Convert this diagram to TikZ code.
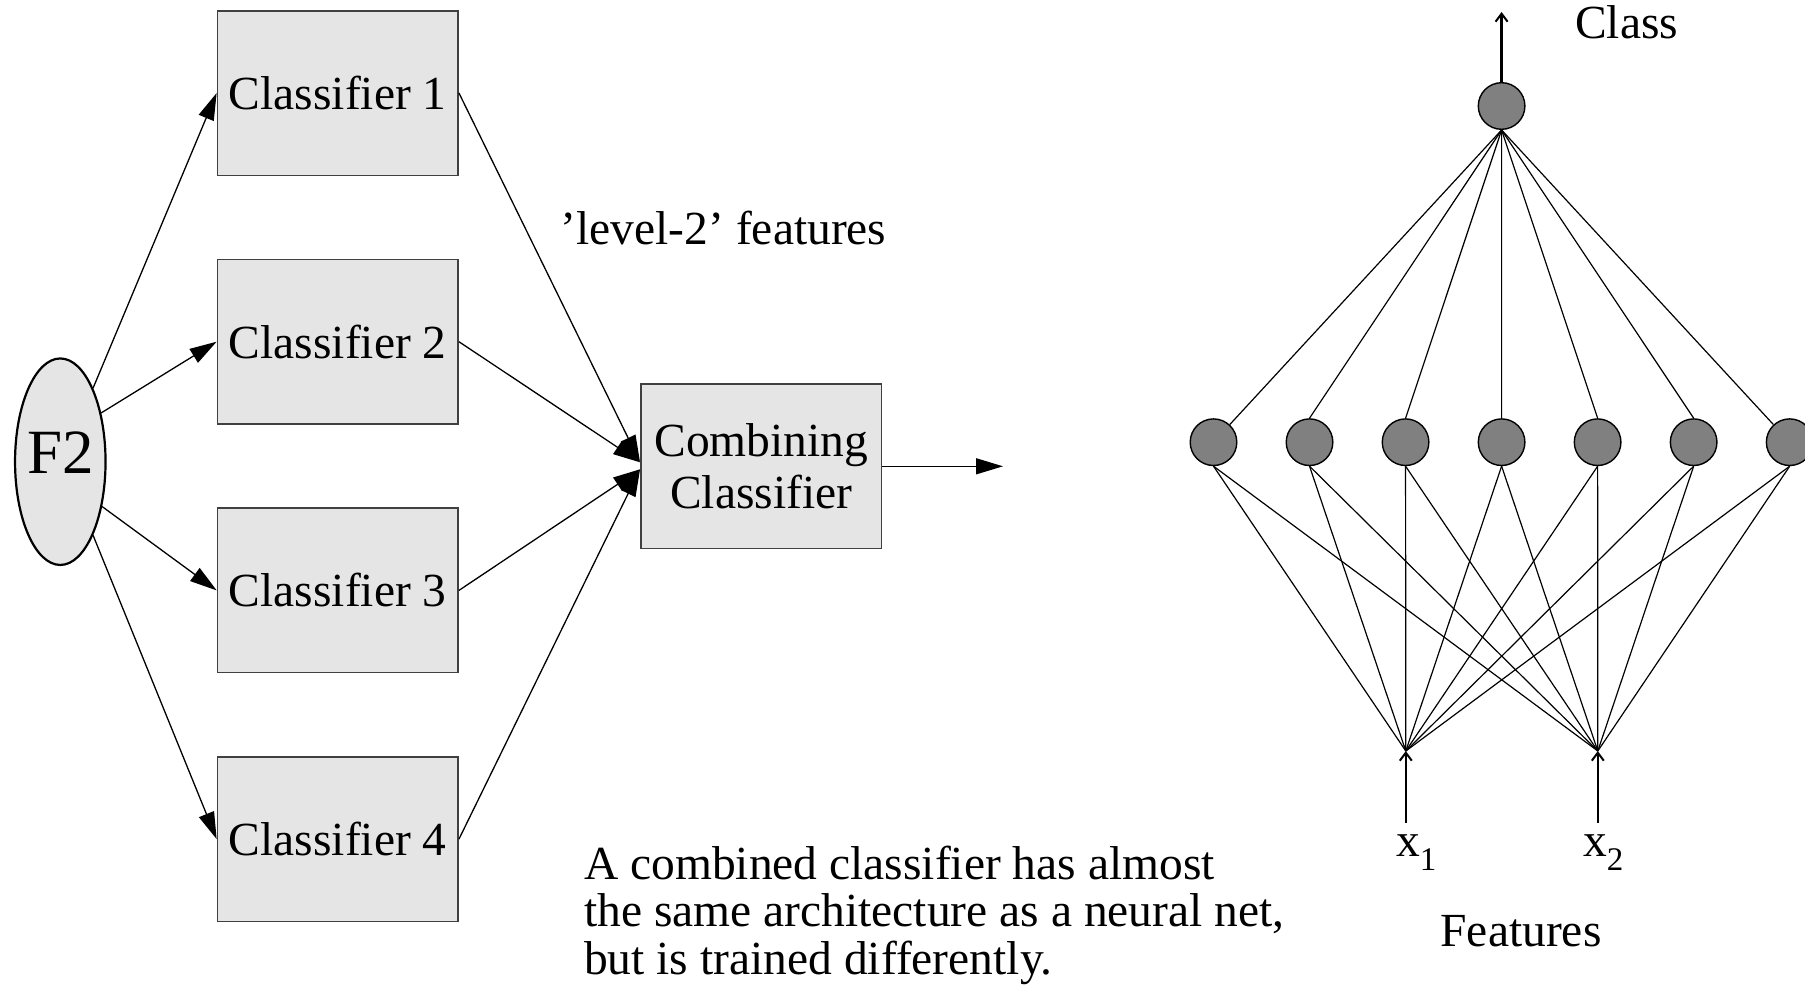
\documentclass[tikz,border=0pt]{standalone}
\usepackage{fontspec}
\setmainfont{Liberation Serif}
\usetikzlibrary{arrows.meta,shapes.geometric}
\definecolor{boxgray}{gray}{0.898}
\definecolor{neurongray}{gray}{0.5}
\begin{document}
\begin{tikzpicture}[x=1pt,y=-1pt,
  txt/.style={font=\fontsize{47.5}{52.7}\selectfont, inner sep=0pt},
  clsbox/.style={draw=black!75, line width=1.5pt, fill=boxgray,
    minimum width=240.8pt, minimum height=164.5pt, inner sep=0pt,
    align=center, font=\fontsize{47.5}{52.7}\selectfont},
  srcnode/.style={ellipse, draw=black, line width=2.2pt, fill=boxgray,
    minimum width=90.5pt, minimum height=206.5pt, inner sep=0pt},
  feed/.style={line width=1.3pt, -{Triangle[length=27pt,width=16pt]}},
  neuron/.style={circle, draw=black, line width=1.4pt, fill=neurongray,
    minimum size=46.6pt, inner sep=0pt},
  wire/.style={line width=1.2pt},
  signal/.style={line width=2.4pt, -{Straight Barb[length=8pt,width=12pt,line width=2pt]}}
]
\useasboundingbox (0,0) rectangle (1805,985);

% source and the four base classifiers
\node[srcnode] (F2) at (60.3,461.7) {};
\node[txt, anchor=base, font=\fontsize{63}{63}\selectfont] (F2text)
  at ([yshift=-11.8pt]F2.center) {F2};
\node[clsbox] (c1) at (337.8,93.0) {Classifier 1};
\node[clsbox] (c2) at (337.8,341.7) {Classifier 2};
\node[clsbox] (c3) at (337.8,590.4) {Classifier 3};
\node[clsbox] (c4) at (337.8,839.1) {Classifier 4};
\node[clsbox] (comb) at (761.2,466.3) {Combining\\Classifier};
\coordinate (result) at (1003,466.3);

\draw[feed] (F2.66) -- (c1.west);
\draw[feed] (F2.50) -- (c2.west);
\draw[feed] (F2.-47) -- (c3.west);
\draw[feed] (F2.-66) -- (c4.west);

\draw[feed] (c1.east) -- ([yshift=4pt]comb.west);
\draw[feed] (c2.east) -- ([yshift=4pt]comb.west);
\draw[feed] (c3.east) -- ([yshift=-3pt]comb.west);
\draw[feed] (c4.east) -- ([yshift=-3pt]comb.west);
\draw[feed] (comb.east) -- (result);

\node[txt, anchor=base west] (lvl) at (560.5,244) {’level-2’ features};

\node[txt, anchor=base west] (note1) at (584,879) {A combined classifier has almost};
\node[txt, anchor=base west] (note2) at (584,926.5) {the same architecture as a neural net,};
\node[txt, anchor=base west] (note3) at (584,974) {but is trained differently.};

% neural network
\node[neuron] (top) at (1501.6,106) {};
\foreach \i in {1,...,7}
  \node[neuron] (h\i) at ({1213.5+96.03*(\i-1)},442.2) {};
\coordinate (in1) at (1405.8,751);
\coordinate (in2) at (1597.8,751);
\coordinate (src1) at (1405.8,823);
\coordinate (src2) at (1597.8,823);
\coordinate (cls) at (1501.6,12);

\draw[wire] (top.south) -- (h1);
\foreach \i in {2,...,6}
  \draw[wire] (top.south) -- (h\i.north);
\draw[wire] (top.south) -- (h7);
\foreach \i in {1,...,7} {
  \draw[wire] (h\i.south) -- (in1);
  \draw[wire] (h\i.south) -- (in2);
}
\draw[signal] (top.north) -- (cls);
\draw[signal] (src1) -- (in1);
\draw[signal] (src2) -- (in2);

\node[txt, anchor=base west] (classlbl) at (1575,38.3) {Class};
\node[txt, anchor=base west] (x1lbl) at (1396,856.7)
  {x\raisebox{-13.3pt}{\fontsize{33}{33}\selectfont 1}};
\node[txt, anchor=base west] (x2lbl) at (1583,856.7)
  {x\raisebox{-13.3pt}{\fontsize{33}{33}\selectfont 2}};
\node[txt, anchor=base] (featlbl) at (1521,946) {Features};
\end{tikzpicture}
\end{document}
